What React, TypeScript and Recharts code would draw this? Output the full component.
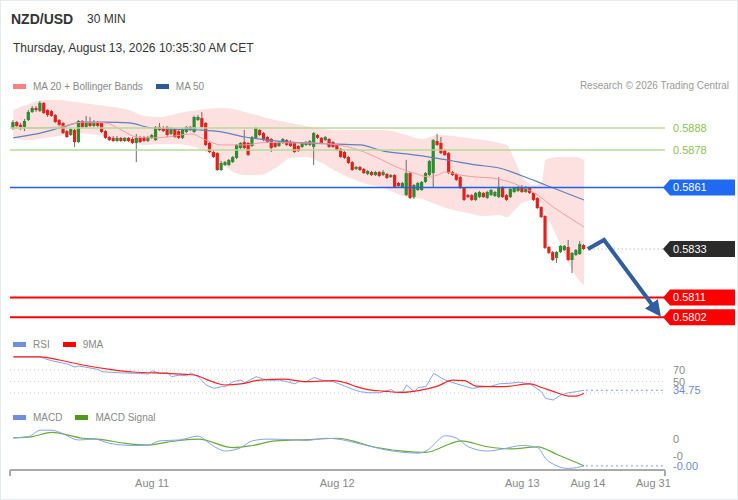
import React from "react";
import {
  Area,
  Bar,
  ComposedChart,
  Line,
  ReferenceLine,
  XAxis,
  YAxis,
} from "recharts";

const FONT = "Arial, 'Liberation Sans', Helvetica, sans-serif";

// 30 min candles, index 0 = Aug 10 06:00 ... index 148 = Aug 13 08:00
const opens = [
  0.5888, 0.58907, 0.58894, 0.58885, 0.58916, 0.58953, 0.58971, 0.58957, 0.58994, 0.58962,
  0.58957, 0.58939, 0.58916, 0.58903, 0.58866, 0.58848, 0.58871, 0.58816, 0.58912, 0.58885,
  0.58907, 0.58889, 0.58907, 0.58903, 0.58866, 0.58839, 0.58835, 0.58821, 0.58835, 0.58821,
  0.58835, 0.5883, 0.58812, 0.58835, 0.58839, 0.58821, 0.58835, 0.58825, 0.58885, 0.5888,
  0.58885, 0.58853, 0.58875, 0.58866, 0.58835, 0.58862, 0.58885, 0.58862, 0.58916, 0.58925,
  0.58903, 0.58812, 0.58771, 0.58766, 0.58689, 0.58712, 0.58712, 0.58725, 0.58744, 0.58789,
  0.58816, 0.58812, 0.58798, 0.58835, 0.58871, 0.58857, 0.58839, 0.5883, 0.58812, 0.58798,
  0.58812, 0.58825, 0.58816, 0.58812, 0.58798, 0.58794, 0.58803, 0.58803, 0.58794, 0.58848,
  0.58835, 0.58825, 0.5883, 0.58816, 0.58803, 0.58785, 0.58771, 0.58748, 0.58725, 0.58694,
  0.58703, 0.58694, 0.58671, 0.5868, 0.58666, 0.5868, 0.58666, 0.58671, 0.58657, 0.58666,
  0.5863, 0.58612, 0.58575, 0.58675, 0.58566, 0.58598, 0.58598, 0.58635, 0.58666, 0.58675,
  0.58821, 0.58812, 0.5878, 0.58766, 0.5868, 0.58671, 0.58657, 0.58607, 0.58575, 0.58575,
  0.58553, 0.58566, 0.58585, 0.58562, 0.58575, 0.58571, 0.58566, 0.58612, 0.58575, 0.58566,
  0.58589, 0.58594, 0.58612, 0.58589, 0.58607, 0.58585, 0.58562, 0.58521, 0.5848, 0.58339,
  0.58316, 0.58289, 0.58316, 0.58325, 0.58339, 0.5828, 0.58303, 0.58307, 0.58348,
];
const highs = [
  0.58916, 0.58912, 0.58903, 0.58921, 0.58962, 0.5898, 0.5898, 0.59003, 0.58998, 0.58966,
  0.58962, 0.58944, 0.58921, 0.58907, 0.58871, 0.5888, 0.58875, 0.58916, 0.58916, 0.58935,
  0.5893, 0.58916, 0.58912, 0.58907, 0.58871, 0.58844, 0.58844, 0.58844, 0.58839, 0.58839,
  0.58839, 0.58839, 0.58853, 0.58844, 0.58844, 0.58844, 0.58853, 0.58889, 0.58903, 0.58889,
  0.58889, 0.58885, 0.5888, 0.58871, 0.5888, 0.58889, 0.58889, 0.58935, 0.58939, 0.58953,
  0.58907, 0.58816, 0.5878, 0.58771, 0.5873, 0.5873, 0.58739, 0.58753, 0.58807, 0.58816,
  0.58871, 0.58816, 0.58844, 0.58885, 0.58875, 0.58862, 0.58844, 0.58835, 0.58816, 0.58821,
  0.58835, 0.5883, 0.58825, 0.58816, 0.58803, 0.58816, 0.58821, 0.58825, 0.58862, 0.58853,
  0.58839, 0.58844, 0.58835, 0.58821, 0.58807, 0.58789, 0.58775, 0.58753, 0.5873, 0.58707,
  0.58707, 0.58698, 0.58689, 0.58685, 0.58685, 0.58685, 0.58689, 0.58675, 0.58671, 0.58671,
  0.58635, 0.58635, 0.58735, 0.5868, 0.58625, 0.58635, 0.58639, 0.5868, 0.58735, 0.5883,
  0.58853, 0.58839, 0.58785, 0.58771, 0.58685, 0.58675, 0.58662, 0.58612, 0.5858, 0.5858,
  0.58589, 0.58594, 0.58589, 0.58594, 0.58603, 0.58594, 0.58657, 0.58616, 0.5858, 0.58607,
  0.58612, 0.58616, 0.58621, 0.58616, 0.58612, 0.58589, 0.58566, 0.58525, 0.58485, 0.58344,
  0.58321, 0.58321, 0.58348, 0.58348, 0.58371, 0.58316, 0.5833, 0.58366, 0.58353,
];
const lows = [
  0.58871, 0.58885, 0.58871, 0.58866, 0.58912, 0.58948, 0.58953, 0.58953, 0.58944, 0.5893,
  0.5893, 0.58903, 0.58889, 0.58853, 0.58835, 0.58844, 0.58794, 0.58812, 0.5888, 0.5888,
  0.58885, 0.58885, 0.58885, 0.58857, 0.5883, 0.58821, 0.58816, 0.58816, 0.58816, 0.58816,
  0.58816, 0.58807, 0.58725, 0.58812, 0.58816, 0.58816, 0.5883, 0.58821, 0.58866, 0.58862,
  0.58839, 0.58848, 0.58835, 0.5883, 0.5883, 0.58857, 0.58866, 0.58857, 0.58912, 0.5888,
  0.58798, 0.58766, 0.58744, 0.58685, 0.58685, 0.58707, 0.58707, 0.58721, 0.58739, 0.58785,
  0.58785, 0.58753, 0.58794, 0.5883, 0.58844, 0.58821, 0.58812, 0.58771, 0.58789, 0.58794,
  0.58807, 0.58798, 0.58794, 0.58766, 0.58771, 0.58789, 0.58798, 0.58798, 0.58712, 0.5883,
  0.58807, 0.58821, 0.58789, 0.58789, 0.58775, 0.58744, 0.58739, 0.58716, 0.58685, 0.58689,
  0.58685, 0.58671, 0.58666, 0.58662, 0.58662, 0.58657, 0.58662, 0.58648, 0.58653, 0.58607,
  0.58612, 0.58607, 0.58571, 0.58557, 0.58557, 0.58594, 0.58594, 0.5863, 0.58662, 0.58607,
  0.58798, 0.58762, 0.58753, 0.58671, 0.58662, 0.58639, 0.58603, 0.58548, 0.58562, 0.58548,
  0.58548, 0.58562, 0.58562, 0.58557, 0.58571, 0.58566, 0.58562, 0.58562, 0.58548, 0.58562,
  0.58585, 0.58589, 0.58585, 0.58585, 0.5858, 0.58548, 0.58512, 0.58471, 0.5833, 0.58307,
  0.58275, 0.58266, 0.58312, 0.58321, 0.58275, 0.58221, 0.58298, 0.58303, 0.58325,
];
const closes = [
  0.58907, 0.58889, 0.58885, 0.58912, 0.58953, 0.58971, 0.58962, 0.58994, 0.58948, 0.58939,
  0.58935, 0.58907, 0.58894, 0.58857, 0.58839, 0.58875, 0.58816, 0.58912, 0.58885, 0.58907,
  0.58889, 0.58907, 0.58889, 0.58862, 0.58835, 0.58825, 0.58821, 0.58835, 0.58821, 0.58835,
  0.58821, 0.58812, 0.58835, 0.58816, 0.58821, 0.58839, 0.58848, 0.58885, 0.58871, 0.58866,
  0.58848, 0.58875, 0.58839, 0.58835, 0.58875, 0.58885, 0.58871, 0.5893, 0.5893, 0.58885,
  0.58803, 0.58771, 0.58748, 0.58689, 0.58721, 0.58725, 0.58735, 0.58748, 0.58803, 0.58812,
  0.58789, 0.58757, 0.58839, 0.5888, 0.58848, 0.58825, 0.58816, 0.58789, 0.58794, 0.58816,
  0.5883, 0.58803, 0.58798, 0.58771, 0.58775, 0.58812, 0.58816, 0.58821, 0.58857, 0.58835,
  0.58812, 0.58839, 0.58794, 0.58794, 0.5878, 0.58748, 0.58744, 0.58721, 0.58689, 0.58703,
  0.58689, 0.58675, 0.58685, 0.58666, 0.5868, 0.58662, 0.5868, 0.58653, 0.58666, 0.58612,
  0.58616, 0.5863, 0.58675, 0.58562, 0.58621, 0.5863, 0.58635, 0.58675, 0.5873, 0.58825,
  0.58803, 0.58766, 0.58757, 0.58675, 0.58666, 0.58644, 0.58607, 0.58553, 0.58566, 0.58553,
  0.58585, 0.58589, 0.58566, 0.58589, 0.58598, 0.58589, 0.58612, 0.58566, 0.58553, 0.58603,
  0.58607, 0.58612, 0.58589, 0.58612, 0.58585, 0.58553, 0.58516, 0.58475, 0.58335, 0.58312,
  0.5828, 0.58316, 0.58344, 0.58344, 0.5828, 0.58312, 0.58325, 0.58353, 0.5833,
];

// Bollinger bands (20, 2), read at candle indexes
const bbIdx = [
  0, 4, 8, 12, 16, 20, 26, 30, 34, 38, 42, 46, 50, 54, 57, 60, 64, 68, 72, 76, 80, 84,
  90, 96, 102, 106, 110, 114, 118, 122, 126, 128, 130, 132, 135, 137, 138, 141, 144,
  146, 148,
];
const bbUpper = [
  0.58962, 0.58989, 0.59007, 0.59007, 0.58998, 0.58989, 0.58975, 0.58962, 0.58935, 0.5893,
  0.58944, 0.58957, 0.58966, 0.58971, 0.58966, 0.58953, 0.58935, 0.58916, 0.58903, 0.58889,
  0.58875, 0.58871, 0.58871, 0.58871, 0.58848, 0.5883, 0.58848, 0.58844, 0.58835, 0.58825,
  0.58812, 0.58803, 0.58735, 0.58657, 0.58621, 0.5863, 0.58735, 0.58748, 0.58748, 0.58748,
  0.58735,
];
const bbLower = [
  0.58835, 0.58825, 0.58835, 0.58844, 0.58857, 0.58853, 0.58835, 0.58816, 0.58803, 0.58807,
  0.58807, 0.58798, 0.58771, 0.58721, 0.5868, 0.58666, 0.58666, 0.58698, 0.58744, 0.58748,
  0.58721, 0.5868, 0.58635, 0.58607, 0.58566, 0.58557, 0.5853, 0.58507, 0.58494, 0.5848,
  0.58485, 0.58475, 0.58507, 0.58539, 0.58553, 0.5853, 0.58494, 0.58385, 0.58266, 0.58203,
  0.58166,
];

const ma20Idx = [
  0, 6, 12, 18, 24, 28, 32, 36, 40, 46, 50, 54, 60, 66, 72, 78, 84, 88, 94, 100, 104,
  108, 110, 112, 116, 120, 124, 128, 132, 136, 140, 144, 148,
];
const ma20 = [
  0.5888, 0.5888, 0.58885, 0.58907, 0.58903, 0.58871, 0.58839, 0.58835, 0.58839, 0.58853,
  0.58825, 0.58803, 0.58803, 0.58816, 0.58812, 0.58812, 0.58803, 0.58789, 0.58748, 0.58698,
  0.58675, 0.58657, 0.58666, 0.5868, 0.58666, 0.58657, 0.58653, 0.58639, 0.58612, 0.58575,
  0.58521, 0.58475, 0.5843,
];
const ma50Idx = [
  0, 6, 12, 18, 24, 30, 36, 42, 48, 54, 60, 66, 72, 84, 90, 96, 102, 108, 114, 120, 126,
  132, 138, 144, 148,
];
const ma50 = [
  0.58835, 0.58853, 0.5888, 0.58907, 0.58907, 0.58903, 0.5888, 0.58875, 0.58871, 0.58862,
  0.58839, 0.58825, 0.58816, 0.58807, 0.58803, 0.58775, 0.58762, 0.58748, 0.5873, 0.58712,
  0.58698, 0.58662, 0.58621, 0.5858, 0.58553,
];

const rsiIdx = [
  0, 7, 8, 10, 14, 16, 17, 19, 22, 23, 28, 33, 35, 36, 38, 40, 41, 43, 45, 46, 48, 50, 52,
  54, 55, 57, 59, 60, 63, 65, 67, 69, 71, 73, 74, 76, 78, 80, 83, 86, 88, 90, 92, 95, 98,
  99, 101, 102, 104, 105, 107, 109, 112, 114, 117, 119, 121, 124, 126, 129, 131, 134, 137,
  138, 140, 142, 144, 146, 148,
];
const rsi = [
  93, 93, 90, 86, 80.4, 75, 77, 74.6, 71, 67, 65, 64, 63, 68.8, 64, 65, 58.4, 61, 60, 65,
  58, 44, 38, 41, 41, 49.7, 52.5, 48, 58.4, 54, 52, 52.5, 49.7, 46, 49.7, 49.7, 57, 52.5,
  49.7, 42, 36.4, 32.3, 30.5, 30.5, 36, 31, 32, 43.9, 32, 39.5, 41, 64, 52.5, 48, 42, 38,
  40, 42, 46, 47, 48.8, 46, 32, 20.7, 17.8, 26.5, 30.5, 32.3, 34.75,
];
const rsiMaIdx = [
  0, 7, 12, 18, 25, 31, 40, 47, 50, 55, 59, 64, 70, 76, 83, 86, 89, 92, 96, 101, 105, 110,
  114, 117, 120, 127, 134, 137, 141, 144, 146, 148,
];
const rsiMa = [
  93, 93, 87.4, 78.7, 71.2, 66.5, 64, 61.3, 53.8, 43.9, 45.8, 52.5, 54, 49.7, 51.6, 48, 41,
  36, 33.4, 31, 34, 42, 52.5, 51.6, 42, 41, 46, 39.5, 30.5, 24.7, 24.7, 29.5,
];
const rsiLevels = [70, 50, 30];

const macdIdx = [
  0, 4, 7, 10, 12, 17, 21, 25, 31, 35, 38, 43, 48, 50, 53, 55, 59, 62, 66, 71, 76, 81, 85,
  88, 93, 97, 101, 105, 108, 110, 112, 115, 118, 123, 127, 132, 136, 138, 141, 144, 148,
];
const macd = [
  0.00002, 0.00005, 0.0002, 0.0002, 0.00015, -0.00003, -0.00001, -0.00011, -0.00016,
  -0.00015, -0.00005, -0.00003, 0.00006, -0.00005, -0.00023, -0.00029, -0.00021, -0.00005,
  -0.00001, -0.00002, -0.00004, 0.00001, -0.00002, -0.00008, -0.00019, -0.00027, -0.00032,
  -0.00034, -0.00023, -0.00005, 0.00007, 0.00001, -0.00019, -0.00029, -0.00024, -0.00016,
  -0.00021, -0.00046, -0.00064, -0.0007, -0.00064,
];
const signalIdx = [
  0, 5, 10, 18, 23, 29, 35, 40, 48, 57, 62, 68, 77, 84, 88, 92, 101, 107, 113, 116, 123,
  129, 136, 141, 146, 148,
];
const signal = [
  0.00002, 0.00005, 0.00015, 0.00001, -0.00002, -0.00011, -0.00015, -0.00008, -0.00001,
  -0.00021, -0.00016, -0.00005, -0.00002, 0.00001, -0.00005, -0.00016, -0.00029, -0.00032,
  -0.00013, -0.00005, -0.00019, -0.00024, -0.00019, -0.00037, -0.00056, -0.00064,
];
const macdLevels = [0, -0.0004];

// forecast arrow
const forecastIdx = [149, 153.2, 167.2];
const forecast = [0.5833, 0.58371, 0.5804];

const resistances = [0.5888, 0.5878];
const pivot = 0.5861;
const supports = [0.5811, 0.5802];
const lastPrice = 0.5833;

const tickIdx = [-0.86, 36, 84, 132, 149, 166, 169];
const tickLabels = ["", "Aug 11", "Aug 12", "Aug 13", "Aug 14", "Aug 31", ""];

const X_DOMAIN: [number, number] = [-0.86, 169];
const PRICE_DOMAIN: [number, number] = [0.579845, 0.590073];
const MACD_DOMAIN: [number, number] = [-0.000736, 0.000322];

const UP = "#2e8b2e";
const DOWN = "#e3201b";
const ARROW = "#305e9e";

type Row = { i: number; [k: string]: any };
const rows: Row[] = opens.map((o, i) => ({
  i,
  open: o,
  high: highs[i],
  low: lows[i],
  close: closes[i],
}));
const put = (idx: number[], vals: number[], key: string) =>
  idx.forEach((k, j) => {
    rows[k][key] = vals[j];
  });
put(ma20Idx, ma20, "ma20");
put(ma50Idx, ma50, "ma50");
put(rsiIdx, rsi, "rsi");
put(rsiMaIdx, rsiMa, "rsiMa");
put(macdIdx, macd, "macd");
put(signalIdx, signal, "signal");
bbIdx.forEach((k, j) => {
  rows[k].bb = [bbLower[j], bbUpper[j]];
});
forecastIdx.forEach((k, j) => rows.push({ i: k, fc: forecast[j] }));

const lastRsi = rsi[rsi.length - 1];
const lastMacd = macd[macd.length - 1];

function Candle(props: any) {
  const { x, y, width, height, payload } = props;
  if (!payload || payload.high === undefined || !isFinite(y) || !isFinite(height)) return <g />;
  const { open, high, low, close } = payload;
  const k = height / (high - low);
  const cx = x + width / 2;
  const top = y + (high - Math.max(open, close)) * k;
  const bot = y + (high - Math.min(open, close)) * k;
  return (
    <g>
      <line x1={cx} x2={cx} y1={y} y2={y + height} stroke="#6b6b6b" strokeWidth={1} />
      <rect x={cx - 1.6} y={top} width={3.2} height={Math.max(1, bot - top)} fill={close >= open ? UP : DOWN} />
    </g>
  );
}

const sideText = (text: string, color: string) => (p: any) => {
  const vb = p.viewBox || {};
  return (
    <text x={vb.x + vb.width + 8} y={vb.y} dy={4} fill={color} fontSize={11} fontFamily={FONT}>
      {text}
    </text>
  );
};

const badge = (text: string, fill: string) => (p: any) => {
  const vb = p.viewBox || {};
  const x0 = vb.x + vb.width - 2;
  const cy = vb.y;
  return (
    <g>
      <path
        d={`M${x0},${cy} L${x0 + 7},${cy - 8} L${x0 + 72},${cy - 8} L${x0 + 72},${cy + 8} L${x0 + 7},${cy + 8} Z`}
        fill={fill}
      />
      <text x={x0 + 10} y={cy} dy={4} fill="#fff" fontSize={11} fontFamily={FONT}>
        {text}
      </text>
    </g>
  );
};

function AxisTick(props: any) {
  const { x, y, payload } = props;
  const label = tickLabels[tickIdx.indexOf(payload.value)];
  if (!label) return <line x1={x} x2={x} y1={y - 8} y2={y - 2} stroke="#aaa" strokeWidth={2} />;
  return (
    <text x={x} y={y} dy={9} textAnchor="middle" fill="#888" fontSize={11} fontFamily={FONT}>
      {label}
    </text>
  );
}

function Legend({ top, items }: { top: number; items: { color: string; label: string }[] }) {
  return (
    <div style={{ position: "absolute", left: 13, top: top - 7, height: 14, display: "flex", alignItems: "center", fontSize: 10, color: "#888" }}>
      {items.map((it) => (
        <div key={it.label} style={{ display: "flex", alignItems: "center", marginRight: 13 }}>
          <div style={{ width: 13, height: 5, background: it.color, marginRight: 7 }} />
          <span>{it.label}</span>
        </div>
      ))}
    </div>
  );
}

export default function App() {
  return (
    <div style={{ position: "absolute", left: 0, top: 0, width: 738, height: 500, background: "#fff", fontFamily: FONT, overflow: "hidden" }}>
      <svg width={0} height={0} style={{ position: "absolute" }}>
        <defs>
          <marker id="fcArrow" viewBox="0 0 10 10" refX={7} refY={5} markerWidth={4} markerHeight={4} orient="auto">
            <path d="M0,0 L10,5 L0,10 Z" fill={ARROW} />
          </marker>
        </defs>
      </svg>

      <div style={{ position: "absolute", left: 11, top: 10, fontSize: 14, fontWeight: "bold", color: "#333", lineHeight: "18px" }}>
        NZD/USD
      </div>
      <div style={{ position: "absolute", left: 87, top: 11, fontSize: 12, color: "#333", lineHeight: "16px" }}>30 MIN</div>
      <div style={{ position: "absolute", left: 13, top: 40, fontSize: 12, color: "#333", lineHeight: "16px" }}>
        Thursday, August 13, 2026 10:35:30 AM CET
      </div>

      <Legend
        top={86}
        items={[
          { color: "#ff8080", label: "MA 20 + Bollinger Bands" },
          { color: "#2f5a9a", label: "MA 50" },
        ]}
      />
      <div style={{ position: "absolute", right: 9, top: 79, lineHeight: "14px", fontSize: 10, color: "#999" }}>
        Research © 2026 Trading Central
      </div>

      {/* price panel */}
      <div style={{ position: "absolute", left: 0, top: 0 }}>
        <ComposedChart width={738} height={330} data={rows} margin={{ top: 100, right: 73, bottom: 5, left: 10 }}>
          <XAxis dataKey="i" type="number" domain={X_DOMAIN} allowDataOverflow hide />
          <YAxis type="number" domain={PRICE_DOMAIN} allowDataOverflow hide />
          <Area dataKey="bb" type="monotone" fill="#fde1e1" fillOpacity={1} stroke="none" connectNulls isAnimationActive={false} />
          <Line dataKey="ma50" type="monotone" stroke="#5f80bd" strokeWidth={1.2} dot={false} connectNulls isAnimationActive={false} />
          <Line dataKey="ma20" type="monotone" stroke="#f59c9c" strokeWidth={1} dot={false} connectNulls isAnimationActive={false} />
          {resistances.map((v) => (
            <ReferenceLine key={v} y={v} stroke="#b3da96" strokeWidth={1.5} label={sideText(v.toFixed(4), "#8cc152")} />
          ))}
          <ReferenceLine y={pivot} stroke="#1f62e8" strokeWidth={1.5} label={badge(pivot.toFixed(4), "#1f6af0")} />
          {supports.map((v) => (
            <ReferenceLine key={v} y={v} stroke="#ff0000" strokeWidth={2} label={badge(v.toFixed(4), "#ff0000")} />
          ))}
          <ReferenceLine
            segment={[
              { x: 150.5, y: lastPrice },
              { x: X_DOMAIN[1], y: lastPrice },
            ]}
            stroke="#999"
            strokeDasharray="1 3"
            label={badge(lastPrice.toFixed(4), "#2b2b2b")}
          />
          <Bar
            dataKey={(d: any) => (d.high === undefined ? undefined : [d.low, d.high])}
            shape={Candle}
            barSize={3}
            isAnimationActive={false}
          />
          <Line
            dataKey="fc"
            type="linear"
            stroke={ARROW}
            strokeWidth={4}
            dot={false}
            connectNulls
            markerEnd="url(#fcArrow)"
            isAnimationActive={false}
          />
        </ComposedChart>
      </div>

      {/* RSI panel */}
      <Legend
        top={344}
        items={[
          { color: "#6f8fe0", label: "RSI" },
          { color: "#ff0000", label: "9MA" },
        ]}
      />
      <div style={{ position: "absolute", left: 0, top: 345 }}>
        <ComposedChart width={738} height={70} data={rows} margin={{ top: 7.75, right: 73, bottom: 4.75, left: 10 }}>
          <XAxis dataKey="i" type="number" domain={X_DOMAIN} allowDataOverflow hide />
          <YAxis type="number" domain={[0, 100]} allowDataOverflow hide />
          {rsiLevels.map((v) => (
            <ReferenceLine
              key={v}
              y={v}
              stroke="#c4c4c4"
              strokeDasharray="1 3"
              label={v === 30 ? undefined : sideText(String(v), "#888")}
            />
          ))}
          <ReferenceLine
            segment={[
              { x: 148.5, y: lastRsi },
              { x: X_DOMAIN[1], y: lastRsi },
            ]}
            stroke="#7c9ce8"
            strokeDasharray="2 3"
            label={sideText(lastRsi.toFixed(2), "#6a8be0")}
          />
          <Line dataKey="rsi" type="linear" stroke="#86a3ea" strokeWidth={1} dot={false} connectNulls isAnimationActive={false} />
          <Line dataKey="rsiMa" type="monotone" stroke="#ff2020" strokeWidth={1.2} dot={false} connectNulls isAnimationActive={false} />
        </ComposedChart>
      </div>

      {/* MACD panel */}
      <Legend
        top={417}
        items={[
          { color: "#6f8fe0", label: "MACD" },
          { color: "#4c9a1c", label: "MACD Signal" },
        ]}
      />
      <div style={{ position: "absolute", left: 0, top: 420 }}>
        <ComposedChart width={738} height={80} data={rows} margin={{ top: 5, right: 73, bottom: 0, left: 10 }}>
          <XAxis
            dataKey="i"
            type="number"
            domain={X_DOMAIN}
            allowDataOverflow
            ticks={tickIdx}
            interval={0}
            tickLine={false}
            axisLine={{ stroke: "#aaa", strokeWidth: 2 }}
            height={30}
            tick={<AxisTick />}
          />
          <YAxis type="number" domain={MACD_DOMAIN} allowDataOverflow hide />
          {macdLevels.map((v) => (
            <ReferenceLine key={v} y={v} stroke="none" label={sideText(v.toFixed(0), "#888")} />
          ))}
          <ReferenceLine
            segment={[
              { x: 148.5, y: lastMacd },
              { x: X_DOMAIN[1], y: lastMacd },
            ]}
            stroke="#7c9ce8"
            strokeDasharray="2 3"
            label={sideText(lastMacd.toFixed(2), "#6a8be0")}
          />
          <Line dataKey="signal" type="monotone" stroke="#6aab3a" strokeWidth={1.2} dot={false} connectNulls isAnimationActive={false} />
          <Line dataKey="macd" type="monotone" stroke="#86a3ea" strokeWidth={1} dot={false} connectNulls isAnimationActive={false} />
        </ComposedChart>
      </div>

      <div style={{ position: "absolute", inset: 0, border: "1px solid #e6ebef", pointerEvents: "none" }} />
    </div>
  );
}
